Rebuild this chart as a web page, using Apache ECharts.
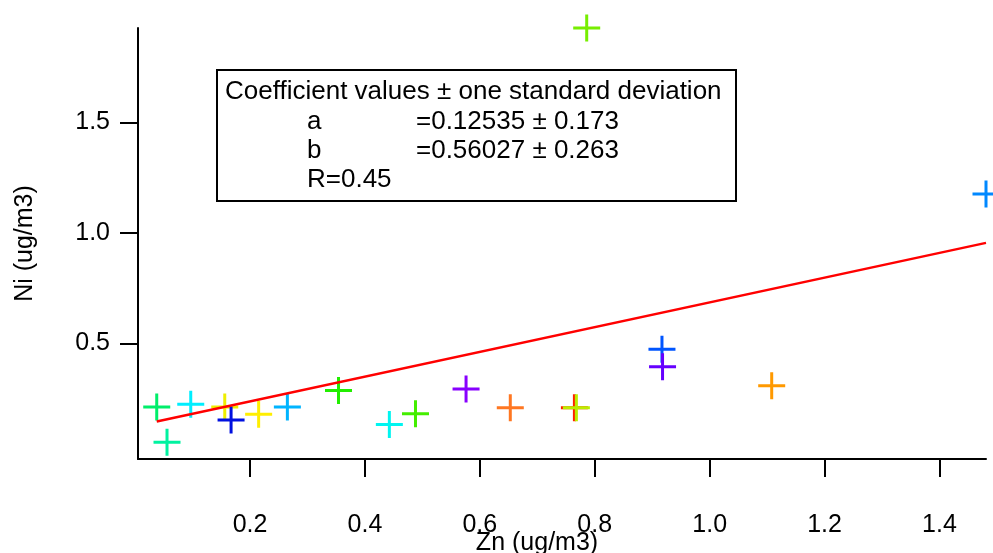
<!DOCTYPE html>
<html>
<head>
<meta charset="utf-8">
<script src="https://cdn.jsdelivr.net/npm/echarts@6/dist/echarts.min.js"></script>
<style>html,body{margin:0;padding:0;background:#fff}#c{width:993px;height:553px}</style>
</head>
<body>
<div id="c"></div>
<script>
// Data
var znValues = [0.0376, 0.0555, 0.0968, 0.156, 0.167, 0.215, 0.265, 0.354, 0.4425, 0.488, 0.576, 0.653, 0.7646, 0.768, 0.786, 0.917, 0.918, 1.108, 1.481];
var niValues = [0.212, 0.052, 0.224, 0.212, 0.153, 0.179, 0.212, 0.287, 0.133, 0.181, 0.293, 0.209, 0.209, 0.209, 1.928, 0.473, 0.394, 0.308, 1.176];
var pointColors = ['#00ee6a', '#00f2a0', '#00eeff', '#eeee00', '#0010e0', '#ffee00', '#00b4ff', '#22ee00', '#00f5f0', '#44ee00', '#8800ff', '#ff7722', '#ff2200', '#bbee00', '#77ee00', '#0055ff', '#6600ff', '#ff9900', '#0088ff'];
var fitX = [0.0376, 1.481];
var fitY = [0.1464, 0.9551];
var xTicks = [0.2, 0.4, 0.6, 0.8, 1.0, 1.2, 1.4];
var yTicks = [0.5, 1.0, 1.5];
var boxLines = ['Coefficient values ± one standard deviation', 'a', '=0.12535 ± 0.173', 'b', '=0.56027 ± 0.263', 'R=0.45'];

var FONT = '"Liberation Sans", Arial, sans-serif';
var chart = echarts.init(document.getElementById('c'));

var scatterData = znValues.map(function (x, i) {
  return { value: [x, niValues[i]], itemStyle: { color: pointColors[i], opacity: 1 } };
});
var fitData = fitX.map(function (x, i) { return [x, fitY[i]]; });

var plus = 'path://M-1.5,-13.5 H1.5 V-1.5 H13.5 V1.5 H1.5 V13.5 H-1.5 V1.5 H-13.5 V-1.5 H-1.5 Z';

chart.setOption({
  animation: false,
  backgroundColor: '#fff',
  grid: { left: 138, right: 7, top: 28, bottom: 94, containLabel: false, outerBoundsMode: 'none' },
  xAxis: {
    type: 'value', min: 0.005, max: 1.481,
    name: 'Zn (ug/m3)', nameLocation: 'middle', nameGap: 72, nameMoveOverlap: false,
    nameTextStyle: { fontFamily: FONT, fontSize: 25, color: '#000', padding: [0, 50, 0, 0] },
    axisLine: { show: true, onZero: false, lineStyle: { color: '#000', width: 2 } },
    axisTick: { show: true, inside: false, length: 18, customValues: xTicks, lineStyle: { color: '#000', width: 2 } },
    axisLabel: { customValues: xTicks, margin: 54, fontFamily: FONT, fontSize: 25, color: '#000',
      formatter: function (v) { return v.toFixed(1); } },
    splitLine: { show: false }
  },
  yAxis: {
    type: 'value', min: -0.0235, max: 1.928,
    name: 'Ni (ug/m3)', nameLocation: 'middle', nameGap: 100, nameMoveOverlap: false,
    nameTextStyle: { fontFamily: FONT, fontSize: 25, color: '#000' },
    axisLine: { show: true, onZero: false, lineStyle: { color: '#000', width: 2 } },
    axisTick: { show: true, inside: false, length: 18, customValues: yTicks, lineStyle: { color: '#000', width: 2 } },
    axisLabel: { customValues: yTicks, margin: 28, fontFamily: FONT, fontSize: 25, color: '#000',
      formatter: function (v) { return v.toFixed(1); } },
    splitLine: { show: false }
  },
  series: [
    {
      type: 'line', data: fitData, showSymbol: false, symbol: 'none',
      lineStyle: { color: '#ff0000', width: 2.5 }, z: 3, silent: true
    },
    {
      type: 'scatter', data: scatterData, symbol: plus, symbolSize: 27, z: 2, silent: true,
      itemStyle: { opacity: 1 }
    }
  ],
  graphic: [
    { type: 'rect', shape: { x: 217, y: 70, width: 519, height: 131 },
      style: { fill: '#fff', stroke: '#000', lineWidth: 2 }, z: 100 },
    { type: 'text', x: 225, y: 92, style: { text: boxLines[0], font: '26px ' + FONT, fill: '#000', verticalAlign: 'middle' }, z: 101 },
    { type: 'text', x: 307, y: 122, style: { text: boxLines[1], font: '26px ' + FONT, fill: '#000', verticalAlign: 'middle' }, z: 101 },
    { type: 'text', x: 416, y: 122, style: { text: boxLines[2], font: '26px ' + FONT, fill: '#000', verticalAlign: 'middle' }, z: 101 },
    { type: 'text', x: 307, y: 151, style: { text: boxLines[3], font: '26px ' + FONT, fill: '#000', verticalAlign: 'middle' }, z: 101 },
    { type: 'text', x: 416, y: 151, style: { text: boxLines[4], font: '26px ' + FONT, fill: '#000', verticalAlign: 'middle' }, z: 101 },
    { type: 'text', x: 307, y: 180, style: { text: boxLines[5], font: '26px ' + FONT, fill: '#000', verticalAlign: 'middle' }, z: 101 }
  ]
});
</script>
</body>
</html>
